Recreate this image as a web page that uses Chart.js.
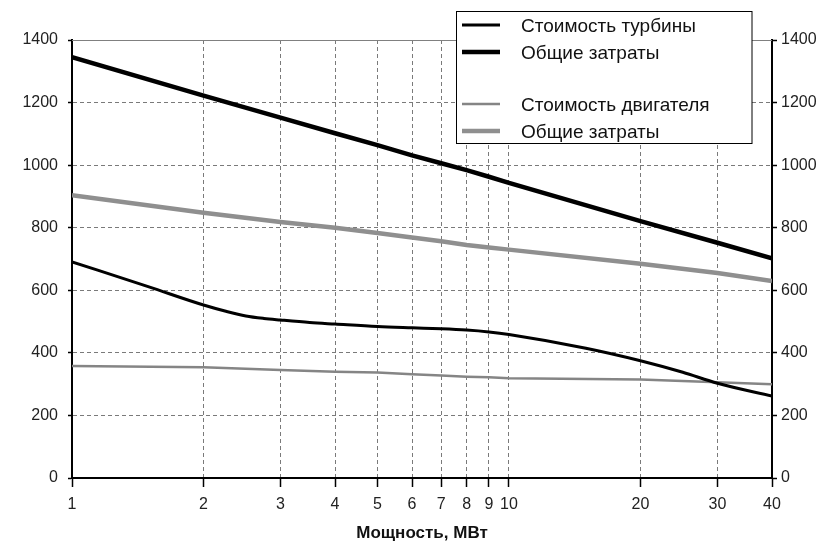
<!DOCTYPE html>
<html>
<head>
<meta charset="utf-8">
<script src="https://cdn.jsdelivr.net/npm/chart.js@4.4.1/dist/chart.umd.min.js"></script>
<style>
  html, body { margin: 0; padding: 0; background: #fff; }
  #wrap { width: 821px; height: 542px; position: relative; }
</style>
</head>
<body>
<div id="wrap"><canvas id="c" width="821" height="542"></canvas></div>
<script>
// ---- data ----
const xTickValues = [1, 2, 3, 4, 5, 6, 7, 8, 9, 10, 20, 30, 40];
const yTickValues = [0, 200, 400, 600, 800, 1000, 1200, 1400];

const powerFine = [1, 1.5, 2, 2.25, 2.5, 2.75, 3, 3.5, 4, 5, 6, 7, 8, 9, 10, 15, 20, 25, 30, 40];
const turbineCost = [691, 611, 553, 533, 518, 510, 505, 497, 492, 484, 480, 477, 473, 467, 459, 415, 375, 338, 303, 262];

const powerMW = [1, 2, 3, 4, 5, 6, 7, 8, 9, 10, 20, 30, 40];
const turbineTotal = [1345, 1222, 1152, 1102, 1064, 1031, 1006, 984, 963, 943, 821, 752, 702];
const engineCost = [358, 354, 345, 340, 337, 332, 328, 324, 322, 319, 315, 306, 300];
const engineTotal = [904, 848, 818, 800, 783, 769, 757, 745, 737, 730, 685, 655, 630];

const seriesLabels = ['Стоимость турбины', 'Общие затраты', 'Стоимость двигателя', 'Общие затраты'];
const xTitle = 'Мощность, МВт';

const pts = (xs, ys) => xs.map((x, i) => ({ x: x, y: ys[i] }));

const FONT = '"Liberation Sans", Arial, sans-serif';

const legendPlugin = {
  id: 'boxLegend',
  afterDraw(chart) {
    const ctx = chart.ctx;
    const area = chart.chartArea;
    ctx.save();
    ctx.strokeStyle = '#808080';
    ctx.lineWidth = 1;
    ctx.beginPath();
    ctx.moveTo(area.left, Math.round(area.top) + 0.5);
    ctx.lineTo(area.right, Math.round(area.top) + 0.5);
    ctx.stroke();

    const bx = 456.5, by = 11.5, bw = 295.5, bh = 132;
    ctx.fillStyle = '#fff';
    ctx.fillRect(bx, by, bw, bh);
    ctx.strokeStyle = '#000';
    ctx.lineWidth = 1;
    ctx.strokeRect(bx, by, bw, bh);

    const rows = [25, 52, 104, 131];
    const ds = chart.data.datasets;
    ctx.font = '19px ' + FONT;
    ctx.textBaseline = 'middle';
    ctx.textAlign = 'left';
    ds.forEach((d, i) => {
      const y = rows[i];
      ctx.strokeStyle = d.borderColor;
      ctx.lineWidth = d.legendWidth;
      ctx.beginPath();
      ctx.moveTo(462, y);
      ctx.lineTo(500, y);
      ctx.stroke();
      ctx.fillStyle = '#111';
      ctx.fillText(d.label, 521, y + 1.5);
    });
    ctx.restore();
  }
};

const gridColor = '#7a7a7a';
const tickFont = { family: FONT, size: 16 };

new Chart(document.getElementById('c'), {
  type: 'line',
  data: {
    datasets: [
      { label: seriesLabels[0], data: pts(powerFine, turbineCost), borderColor: '#000', borderWidth: 3, legendWidth: 3, pointRadius: 0, cubicInterpolationMode: 'monotone', yAxisID: 'y' },
      { label: seriesLabels[1], data: pts(powerMW, turbineTotal), borderColor: '#000', borderWidth: 4.5, legendWidth: 4.5, pointRadius: 0, tension: 0, yAxisID: 'y' },
      { label: seriesLabels[2], data: pts(powerMW, engineCost), borderColor: '#858585', borderWidth: 2.5, legendWidth: 2.5, pointRadius: 0, tension: 0, yAxisID: 'y' },
      { label: seriesLabels[3], data: pts(powerMW, engineTotal), borderColor: '#8f8f8f', borderWidth: 4.5, legendWidth: 4.5, pointRadius: 0, tension: 0, yAxisID: 'y' }
    ]
  },
  options: {
    responsive: false,
    animation: false,
    layout: { padding: { top: 40, left: 0, right: 0, bottom: 0 } },
    plugins: { legend: { display: false }, tooltip: { enabled: false } },
    scales: {
      x: {
        type: 'logarithmic',
        position: 'bottom',
        min: 1, max: 40,
        afterBuildTicks: (s) => { s.ticks = xTickValues.map(v => ({ value: v })); },
        afterFit: (s) => { s.height = 64; },
        ticks: {
          autoSkip: false, maxRotation: 0, minRotation: 0,
          padding: 8, color: '#222', font: tickFont,
          callback: (v) => String(v)
        },
        grid: { color: gridColor, lineWidth: 1, tickColor: '#000', tickLength: 9, tickWidth: 1.5 },
        border: { color: '#000', width: 2, dash: [4, 3] },
        title: {
          display: true, text: xTitle, color: '#111',
          font: { family: FONT, size: 17, weight: 'bold' },
          padding: { top: 0, bottom: -2 }
        }
      },
      y: {
        type: 'linear',
        position: 'left',
        min: 0, max: 1400,
        afterBuildTicks: (s) => { s.ticks = yTickValues.map(v => ({ value: v })); },
        afterFit: (s) => { s.width = 72; },
        ticks: { padding: 10, color: '#222', font: tickFont, callback: (v) => String(v) },
        grid: { color: gridColor, lineWidth: 1, tickColor: '#000', tickLength: 4, tickWidth: 1.5 },
        border: { color: '#000', width: 2, dash: [4, 3] }
      },
      y2: {
        type: 'linear',
        position: 'right',
        min: 0, max: 1400,
        afterBuildTicks: (s) => { s.ticks = yTickValues.map(v => ({ value: v })); },
        afterFit: (s) => { s.width = 49; },
        ticks: { padding: 4, color: '#222', font: tickFont, callback: (v) => String(v) },
        grid: { drawOnChartArea: false, tickColor: '#000', tickLength: 5, tickWidth: 1.5 },
        border: { color: '#000', width: 2 }
      }
    }
  },
  plugins: [legendPlugin]
});
</script>
</body>
</html>
